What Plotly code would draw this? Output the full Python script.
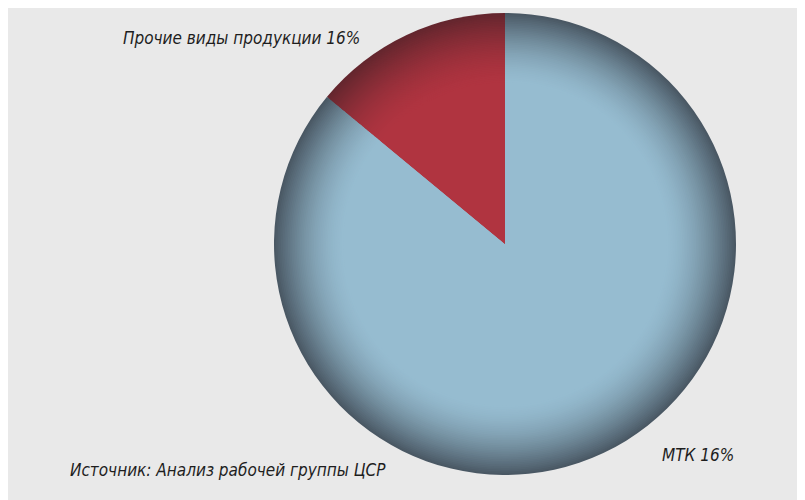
import plotly.graph_objects as go
import numpy as np

labels = ["МТК", "Прочие виды продукции"]
values = [86, 14]
label_texts = ["Прочие виды продукции 16%", "МТК 16%"]
source_text = "Источник: Анализ рабочей группы ЦСР"

W, H = 805, 500
OFF = 8  # page body margin compensation
cx, cy, R = 505 - OFF, 244 - OFF, 231

light = [np.array([150, 188, 208]), np.array([176, 52, 64])]
dark = [np.array([74, 88, 100]), np.array([100, 38, 46])]

def rgb(c):
    return "rgb(%d,%d,%d)" % tuple(int(round(v)) for v in c)

fig = go.Figure()
N = 40
start = 0.70
for i in range(N + 1):
    f = 1.0 - (1.0 - start) * i / N
    t = (f - start) / (1.0 - start)
    t = max(0.0, min(1.0, t)) ** 1.6
    cols = [rgb(light[k] + (dark[k] - light[k]) * t) for k in range(2)]
    r = R * f
    fig.add_trace(go.Pie(
        labels=labels, values=values, sort=False, direction="clockwise",
        rotation=0, textinfo="none", hoverinfo="skip", showlegend=False,
        marker=dict(colors=cols, line=dict(width=0)),
        domain=dict(x=[(cx - r) / W, (cx + r) / W], y=[1 - (cy + r) / H, 1 - (cy - r) / H]),
    ))

font = dict(family="DejaVu Sans Condensed, Liberation Sans Narrow, Roboto Condensed, sans-serif",
            size=17, color="#1e1e1e", style="italic")
fig.add_annotation(x=(121 - OFF) / W, y=1 - (38 - OFF) / H, xref="paper", yref="paper", text=label_texts[0],
                   showarrow=False, xanchor="left", yanchor="middle", font=font)
fig.add_annotation(x=(660 - OFF) / W, y=1 - (455 - OFF) / H, xref="paper", yref="paper", text=label_texts[1],
                   showarrow=False, xanchor="left", yanchor="middle", font=font)
fig.add_annotation(x=(68 - OFF) / W, y=1 - (470 - OFF) / H, xref="paper", yref="paper", text=source_text,
                   showarrow=False, xanchor="left", yanchor="middle", font=font)

fig.update_layout(width=W, height=H, margin=dict(l=0, r=0, t=0, b=0),
                  paper_bgcolor="#e9e9e9", plot_bgcolor="#e9e9e9", showlegend=False)
fig.write_html("out.html")
